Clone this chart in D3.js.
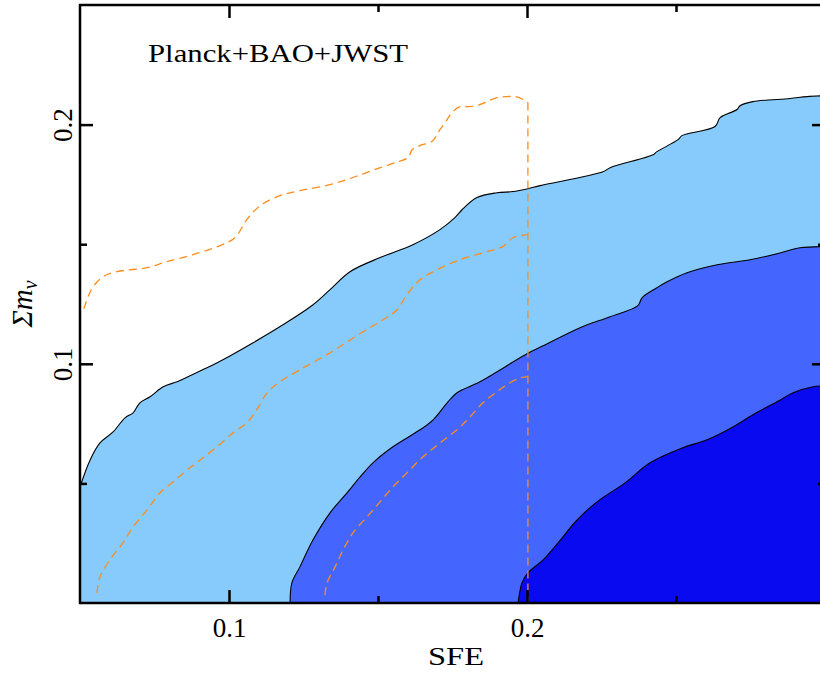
<!DOCTYPE html>
<html>
<head>
<meta charset="utf-8">
<script src="https://cdn.jsdelivr.net/npm/d3@7"></script>
<style>
  body { margin: 0; background: #fff; }
  svg { display: block; }
</style>
</head>
<body>
<div id="chart"></div>
<script>
// contour boundaries, as [SFE, sum m_nu]
var outerBlue = [[0.05,0.0485],[0.0534,0.0598],[0.0567,0.0669],[0.0611,0.0715],[0.0651,0.0774],[0.0678,0.0795],
  [0.0701,0.0837],[0.0735,0.0862],[0.0779,0.0904],[0.0826,0.0925],[0.0869,0.0950],[0.0926,0.0983],[0.1003,0.1033],
  [0.1081,0.1088],[0.1181,0.1163],[0.1282,0.1247],[0.1339,0.1310],[0.1406,0.1385],[0.1507,0.1444],[0.1617,0.1498],
  [0.1708,0.1561],[0.1758,0.1611],[0.1782,0.1644],[0.1832,0.1695],[0.1899,0.1715],[0.1953,0.1720],[0.2003,0.1732],
  [0.2044,0.1745],[0.2255,0.1803],[0.2279,0.1820],[0.2423,0.1874],[0.2436,0.1887],[0.2507,0.1937],[0.2520,0.1954],
  [0.2631,0.1992],[0.2648,0.2029],[0.2705,0.2063],[0.2715,0.2079],[0.2758,0.2096],[0.2883,0.2109],[0.2940,0.2117],
  [0.3003,0.2121]];

var midBlue = [[0.1205,0],[0.1211,0.0084],[0.1238,0.0151],[0.1282,0.0264],[0.1339,0.0377],[0.1396,0.0460],
  [0.1440,0.0527],[0.1483,0.0586],[0.1550,0.0653],[0.1641,0.0724],[0.1685,0.0766],[0.1732,0.0837],[0.1765,0.0879],
  [0.1842,0.0925],[0.1926,0.0987],[0.2000,0.1042],[0.2054,0.1075],[0.2178,0.1151],[0.2279,0.1197],[0.2372,0.1243],
  [0.2386,0.1276],[0.2436,0.1318],[0.2470,0.1343],[0.2537,0.1381],[0.2638,0.1414],[0.2748,0.1435],[0.2839,0.1460],
  [0.2916,0.1485],[0.3003,0.1490]];

var innerBlue = [[0.1970,0],[0.1977,0.0054],[0.1983,0.0084],[0.2003,0.0126],[0.2054,0.0180],[0.2104,0.0251],
  [0.2168,0.0347],[0.2235,0.0423],[0.2329,0.0502],[0.2413,0.0586],[0.2523,0.0649],[0.2604,0.0682],[0.2691,0.0736],
  [0.2758,0.0787],[0.2839,0.0841],[0.2893,0.0879],[0.2960,0.0904],[0.3003,0.0908]];

// dashed orange contours (cut at SFE = 0.2)
var dashOuter = [[0.0513,0.1230],[0.0527,0.1280],[0.0544,0.1322],[0.0577,0.1364],[0.0624,0.1385],[0.0725,0.1402],
  [0.0792,0.1427],[0.0879,0.1456],[0.0970,0.1494],[0.1020,0.1527],[0.1060,0.1603],[0.1104,0.1661],[0.1171,0.1703],
  [0.1238,0.1724],[0.1339,0.1749],[0.1423,0.1782],[0.1507,0.1820],[0.1567,0.1845],[0.1601,0.1862],[0.1614,0.1895],
  [0.1628,0.1904],[0.1648,0.1916],[0.1681,0.1929],[0.1708,0.1979],[0.1732,0.2021],[0.1748,0.2050],[0.1775,0.2075],
  [0.1809,0.2075],[0.1842,0.2084],[0.1866,0.2096],[0.1899,0.2113],[0.1933,0.2117],[0.1960,0.2117],[0.1987,0.2105],
  [0.2003,0.2092]];
var cutSFE = 0.2003;

var dashMid = [[0.0557,0.0042],[0.0567,0.0109],[0.0607,0.0192],[0.0644,0.0251],[0.0678,0.0318],[0.0725,0.0389],
  [0.0768,0.0460],[0.0812,0.0506],[0.0859,0.0556],[0.0903,0.0598],[0.0960,0.0653],[0.1013,0.0711],[0.1060,0.0753],
  [0.1097,0.0816],[0.1128,0.0879],[0.1171,0.0925],[0.1238,0.0975],[0.1339,0.1046],[0.1450,0.1134],[0.1517,0.1184],
  [0.1564,0.1226],[0.1597,0.1289],[0.1641,0.1351],[0.1698,0.1393],[0.1775,0.1435],[0.1866,0.1469],[0.1919,0.1490],
  [0.1953,0.1527],[0.2003,0.1540]];

var dashInner = [[0.1322,0.0033],[0.1329,0.0084],[0.1356,0.0151],[0.1383,0.0222],[0.1416,0.0293],[0.1463,0.0360],
  [0.1507,0.0423],[0.1550,0.0485],[0.1597,0.0544],[0.1651,0.0611],[0.1708,0.0669],[0.1765,0.0724],[0.1809,0.0778],
  [0.1852,0.0837],[0.1899,0.0883],[0.1943,0.0921],[0.1977,0.0941],[0.2003,0.0946]];

var xMajor = [0.1, 0.2], xMinor = [0.15, 0.25];
var yMajor = [0.1, 0.2], yMinor = [0.05, 0.15];

var FONT = "'Liberation Serif', 'Times New Roman', 'DejaVu Serif', serif";

var margin = {top: 5, left: 80},
    width = 745, height = 598;

var svg = d3.select("#chart").append("svg")
    .attr("width", 820).attr("height", 675);

var g = svg.append("g")
    .attr("transform", "translate(" + margin.left + "," + margin.top + ")");

var x = d3.scaleLinear().domain([0.05, 0.3]).range([0, width]);
var y = d3.scaleLinear().domain([0, 0.25]).range([height, 0]);

g.append("defs").append("clipPath").attr("id", "clip")
    .append("rect").attr("width", width).attr("height", height);

var plot = g.append("g").attr("clip-path", "url(#clip)");

var line = d3.line()
    .x(function (d) { return x(d[0]); })
    .y(function (d) { return y(d[1]); })
    .curve(d3.curveCatmullRom);
var straight = d3.line()
    .x(function (d) { return x(d[0]); })
    .y(function (d) { return y(d[1]); });

// filled regions, closed along the bottom / right edge
function region(pts, color, leftClose) {
    var last = pts[pts.length - 1];
    var closing = [[last[0] + 0.01, last[1]], [last[0] + 0.01, -0.01]];
    if (leftClose) closing.push([pts[0][0] - 0.01, -0.01], [pts[0][0] - 0.01, pts[0][1]]);
    var d = line(pts) + straight(closing).replace("M", "L") + "Z";
    plot.append("path").attr("d", d).attr("fill", color).attr("stroke", "none");
    plot.append("path").attr("d", line(pts)).attr("fill", "none")
        .attr("stroke", "#000").attr("stroke-width", 1.1);
}
region(outerBlue, "#87cbfd", true);
region(midBlue, "#4466ff", false);
region(innerBlue, "#0a0af0", false);

function dashed(path) {
    plot.append("path").attr("d", path)
        .attr("fill", "none")
        .attr("stroke", "#ff8c1a")
        .attr("stroke-width", 1.3)
        .attr("stroke-dasharray", "8,5");
}
[dashOuter, dashMid, dashInner].forEach(function (pts) { dashed(line(pts)); });
// the vertical cut at SFE = 0.2
dashed(straight([dashOuter[dashOuter.length - 1], [cutSFE, 0]]));

// axes, ticks pointing inward
function addAxis(axisFn, scale, ticks, size, transform, labels) {
    var a = g.append("g").attr("transform", transform)
        .call(axisFn(scale).tickValues(ticks).tickSizeInner(-size).tickSizeOuter(0)
            .tickFormat(labels ? d3.format(".1f") : ""));
    a.select(".domain").remove();
    a.selectAll(".tick line").attr("stroke-width", 2.5);
    return a;
}
var xb = addAxis(d3.axisBottom, x, xMajor, 13, "translate(0," + height + ")", true);
addAxis(d3.axisBottom, x, xMinor, 7, "translate(0," + height + ")", false);
addAxis(d3.axisTop, x, xMajor, 13, "translate(0,0)", false);
addAxis(d3.axisTop, x, xMinor, 7, "translate(0,0)", false);
var yl = addAxis(d3.axisLeft, y, yMajor, 13, "translate(0,0)", true);
addAxis(d3.axisLeft, y, yMinor, 7, "translate(0,0)", false);
addAxis(d3.axisRight, y, yMajor, 13, "translate(" + width + ",0)", false);
addAxis(d3.axisRight, y, yMinor, 7, "translate(" + width + ",0)", false);

xb.selectAll(".tick text")
    .attr("y", 34).attr("dy", 0)
    .style("font-family", FONT)
    .style("font-size", "27px");
yl.selectAll(".tick text")
    .attr("transform", "rotate(-90)")
    .attr("x", 0).attr("y", -8).attr("dy", 0)
    .attr("text-anchor", "middle")
    .style("font-family", FONT)
    .style("font-size", "27px");

// frame
g.append("rect").attr("width", width).attr("height", height)
    .attr("fill", "none").attr("stroke", "#000").attr("stroke-width", 2.5);

// labels (stretched a little to match the wider TeX face)
svg.append("text")
    .attr("x", 148).attr("y", 62)
    .attr("textLength", 260).attr("lengthAdjust", "spacingAndGlyphs")
    .style("font-family", FONT)
    .style("font-size", "26px")
    .text("Planck+BAO+JWST");

svg.append("text")
    .attr("x", 428).attr("y", 665)
    .attr("textLength", 56).attr("lengthAdjust", "spacingAndGlyphs")
    .style("font-family", FONT)
    .style("font-size", "26px")
    .text("SFE");

var yLab = svg.append("text")
    .attr("transform", "translate(32," + (margin.top + height / 2) + ") rotate(-90)")
    .attr("text-anchor", "middle")
    .style("font-family", FONT)
    .style("font-size", "29px")
    .style("font-style", "italic");
yLab.append("tspan").text("Σm");
yLab.append("tspan").attr("dy", 5).style("font-size", "20px").text("ν");
</script>
</body>
</html>
